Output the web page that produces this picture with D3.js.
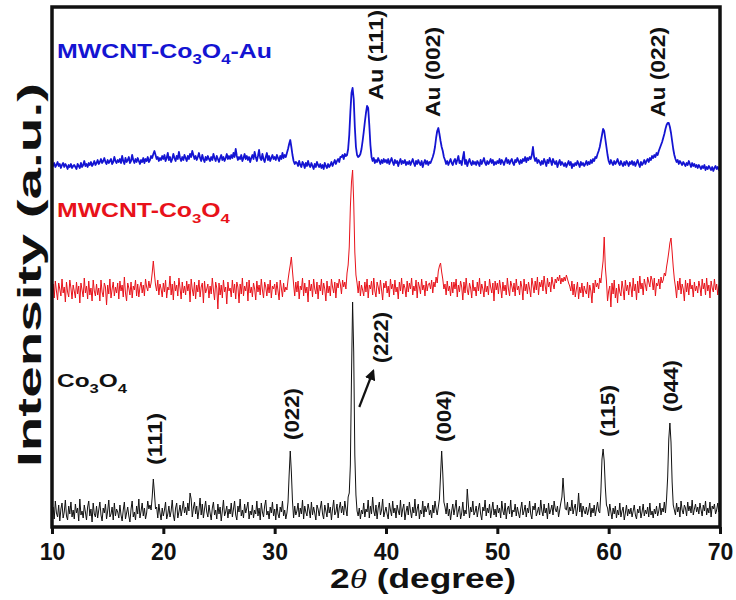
<!DOCTYPE html>
<html>
<head>
<meta charset="utf-8">
<script src="https://cdn.jsdelivr.net/npm/d3@7"></script>
<style>
    body { margin: 0; background: #fff; }
    svg { display: block; font-family: "Liberation Sans", Arial, sans-serif; font-weight: bold; }
</style>
</head>
<body>
<div id="chart"></div>
<script>
const ctx = {
    W: 736,
    H: 600,
    left: 52,
    right: 720,
    top: 7,
    bottom: 527,
};

// XRD scan grid: 2theta from 10 to 70 deg, 0.1 deg step
const scanStart = 10;
const scanStep = 0.1;

// intensities (a.u., curves already stacked)
const co3o4 = [
    12,20,8,26,14,10,22,6,18,24,9,15,27,11,7,21,13,25,10,17,
    8,23,14,19,6,28,12,16,9,22,15,7,20,26,11,18,5,24,13,10,
    21,9,17,25,12,6,19,14,23,8,16,27,10,13,20,7,24,11,18,15,
    9,22,12,6,17,25,8,14,20,11,5,18,26,10,15,7,21,13,28,9,
    16,24,11,19,8,14,26,18,22,17,30,48,34,18,20,9,23,14,7,19,
    11,17,25,8,13,21,10,16,27,12,6,19,24,9,15,22,11,18,26,14,
    20,12,24,16,34,28,10,19,25,13,21,8,17,29,12,23,9,18,26,15,
    10,22,14,7,19,25,12,17,8,23,13,20,6,16,27,11,15,21,9,18,
    13,24,10,18,26,12,7,21,15,28,11,17,9,23,14,19,25,8,16,12,
    22,9,17,13,26,11,19,7,24,15,10,21,27,12,16,8,20,14,25,11,
    18,7,23,13,9,20,15,26,11,17,8,14,25,52,76,55,26,9,21,12,
    16,24,10,19,13,27,8,21,15,11,23,17,9,25,12,20,14,7,22,18,
    11,19,26,13,8,22,16,10,24,14,20,7,18,27,12,15,23,9,19,25,
    14,21,12,26,18,11,30,34,62,150,225,175,72,32,16,11,19,8,17,13,
    24,10,18,15,27,9,21,13,30,16,11,22,8,19,25,12,17,28,10,15,
    20,13,8,24,17,11,26,14,19,9,22,16,12,27,10,18,23,7,15,21,
    12,25,16,9,20,14,28,11,18,23,8,17,13,26,10,21,15,19,24,12,
    17,9,22,14,26,18,12,20,28,52,76,54,25,20,13,24,11,18,7,16,
    23,12,19,27,10,16,21,8,14,25,11,17,13,38,22,9,20,15,26,12,
    15,21,10,18,24,13,7,20,16,27,11,19,14,23,9,17,25,12,18,10,
    22,14,19,9,26,16,12,24,8,18,21,13,27,10,17,15,23,11,20,14,
    9,18,25,12,16,22,10,19,14,26,13,8,21,17,24,11,15,20,12,27,
    16,11,23,14,19,8,24,13,17,22,12,26,18,15,21,10,17,24,30,49,
    32,18,17,25,12,20,16,27,13,19,23,11,18,34,15,24,10,21,16,13,
    20,12,17,24,10,19,14,22,11,18,25,16,14,35,68,78,66,40,22,19,
    11,23,15,8,19,13,21,9,17,12,24,10,16,20,7,14,22,11,18,13,
    19,10,16,22,12,8,18,14,21,9,15,23,11,17,13,20,10,24,12,16,
    9,18,13,21,11,16,24,12,19,15,25,14,28,50,88,104,85,45,22,17,
    12,24,15,20,10,26,17,13,22,19,11,25,16,21,14,27,12,18,23,15,
    20,13,24,17,11,22,16,26,12,19,14,25,10,21,18,23,13,17,24,15,
    18
];

const mwcntCo3o4 = [
    232,243,229,246,236,227,244,238,231,248,234,240,225,245,235,230,247,239,228,242,
    236,229,245,233,241,224,244,237,230,249,234,241,228,246,232,239,226,247,236,231,
    243,232,239,226,247,235,230,244,240,222,242,233,248,229,238,245,231,240,234,244,
    228,246,236,242,230,250,234,226,244,239,232,245,229,241,237,247,231,243,230,240,
    245,234,242,231,248,240,236,246,239,244,254,266,253,242,236,247,232,243,238,230,
    244,235,247,229,240,237,251,232,243,227,246,236,242,231,249,239,228,245,234,241,
    232,246,236,243,225,248,238,231,245,228,242,235,247,230,240,244,224,246,234,238,
    243,229,241,233,249,237,227,245,239,218,244,232,242,229,247,235,240,223,245,236,
    239,230,247,234,243,228,245,240,224,243,233,249,231,241,236,245,226,247,234,240,
    230,244,238,227,246,235,242,232,248,237,229,245,240,231,243,234,247,229,241,238,
    243,232,245,236,227,247,239,230,244,235,240,237,247,255,262,270,256,243,231,245,
    235,246,228,241,237,249,231,244,234,240,225,247,236,243,230,248,238,233,245,228,
    242,236,248,232,244,238,226,246,234,241,231,248,240,234,245,229,244,239,248,243,
    233,247,240,245,238,254,262,280,320,345,357,325,275,252,244,234,246,231,242,237,
    231,245,235,248,229,242,238,246,232,249,236,230,245,240,233,247,237,227,244,239,
    246,234,241,230,248,238,243,232,247,235,240,228,245,236,249,233,243,239,230,246,
    235,244,238,249,232,241,236,247,229,245,240,233,248,237,242,231,246,236,243,244,
    238,247,234,245,240,250,244,256,261,264,255,248,238,243,232,246,236,241,231,245,
    234,245,238,248,230,242,235,246,240,227,245,234,249,237,232,244,239,229,247,236,
    240,231,245,236,249,233,243,238,230,246,235,241,232,248,240,234,244,226,246,237,
    244,233,247,239,229,245,236,242,232,249,238,231,246,241,235,244,231,248,237,241,
    232,246,240,227,248,236,243,233,245,238,230,249,242,234,246,237,250,232,245,240,
    247,236,251,241,233,249,240,245,235,250,243,238,248,244,250,246,252,243,249,245,
    250,246,252,248,244,241,236,246,232,243,230,238,245,228,240,234,244,230,241,236,
    233,245,229,242,236,224,244,234,247,240,244,238,249,244,256,266,290,260,246,226,
    236,241,220,244,233,247,229,239,224,243,235,231,246,238,227,247,236,242,232,245,
    240,230,249,236,243,227,246,234,251,238,244,232,248,242,236,250,245,240,251,247,
    237,249,231,244,241,248,238,250,244,247,254,251,260,267,275,284,289,275,260,248,
    240,229,246,237,249,233,243,238,226,247,235,244,232,248,238,242,230,245,236,241,
    234,246,240,231,248,238,244,232,249,236,242,229,246,239,235,248,237,243,232,241,
    244
];

const mwcntCo3o4Au = [
    363,361,364,360,362,365,361,363,359,362,364,360,363,361,358,362,360,363,359,361,
    362,360,358,363,361,359,364,360,362,366,361,363,360,364,362,365,361,363,366,362,
    364,367,363,365,368,364,366,369,365,363,367,364,366,368,363,365,370,366,364,367,
    365,368,364,371,366,363,369,365,367,370,364,366,372,367,364,368,365,369,366,363,
    367,365,369,364,368,366,370,365,367,371,369,373,376,372,368,370,366,369,367,371,
    368,372,366,369,374,367,370,365,368,373,369,366,371,368,375,369,366,370,367,372,
    369,366,371,368,373,370,376,372,368,371,367,370,374,369,366,372,368,365,370,367,
    371,368,366,370,367,373,369,366,371,368,365,369,372,367,370,366,369,373,368,371,
    368,372,369,374,370,378,371,367,370,368,372,366,369,373,368,371,367,370,365,369,
    372,368,375,370,366,371,377,369,367,373,368,365,370,374,367,371,366,369,372,368,
    370,367,372,369,366,371,368,374,369,372,370,374,378,383,387,380,372,366,363,365,
    364,361,366,362,360,365,363,359,364,361,366,362,360,364,361,358,363,360,365,362,
    360,363,359,362,358,364,361,359,363,360,362,365,361,364,367,363,366,368,365,370,
    370,372,368,373,371,372,378,392,415,434,439,428,400,380,372,370,371,373,378,386,
    395,405,414,421,419,402,382,370,366,369,364,367,365,369,366,363,367,364,368,365,
    367,364,368,363,366,369,365,362,367,364,366,361,365,368,363,366,364,367,362,365,
    363,366,362,365,368,364,361,366,363,367,364,362,366,360,364,367,363,366,362,365,
    364,367,370,374,380,389,396,399,393,386,380,376,370,367,363,366,362,365,368,364,
    362,366,368,363,367,371,364,366,362,369,375,363,367,361,365,368,364,362,366,363,
    365,362,366,364,361,367,363,366,369,364,362,366,363,365,368,364,367,362,365,363,
    366,364,368,363,367,365,362,366,369,364,367,363,366,368,364,362,367,365,369,366,
    363,367,364,368,366,370,365,369,367,370,368,372,380,370,366,369,364,367,365,362,
    366,363,368,365,361,367,364,369,366,362,368,365,363,366,360,364,367,362,365,363,
    361,364,360,363,366,362,365,359,363,361,364,362,366,363,360,365,362,364,361,363,
    366,362,365,363,367,364,368,366,370,369,373,376,380,386,392,398,396,388,380,372,
    366,363,367,364,362,366,363,365,368,364,362,366,363,361,365,362,366,364,361,365,
    363,366,362,365,361,364,367,363,360,365,362,364,367,363,366,368,365,369,367,371,
    369,372,370,374,372,376,379,382,385,389,393,398,402,404,404,400,394,386,378,372,
    368,365,367,363,366,364,362,365,363,361,364,362,366,363,360,364,361,363,360,362,
    359,362,360,358,361,359,362,357,360,358,361,359,357,360,356,359,361,358,360,357,
    359
];

const xTicks = [10, 20, 30, 40, 50, 60, 70];

// sample names (main, subscript, main, subscript, main)
const sampleNames = [
    ["MWCNT-Co", "3", "O", "4", "-Au"],
    ["MWCNT-Co", "3", "O", "4", ""],
    ["Co", "3", "O", "4", ""],
];
const sampleColors = ["#1414d2", "#e8121a", "#111111"];
const sampleLineWidths = [1.8, 1, 1];
// where the sample names sit (2theta, a.u.) and how long they run
const sampleNamePos = [[10.45, 469, 215], [10.45, 310, 173], [10.45, 140, 70]];
const sampleNameSize = [21, 20, 19];

// reflection labels
const peakLabels = ["Au (111)", "Au (002)", "Au (022)", "(222)", "(111)", "(022)", "(004)", "(115)", "(044)"];
const peakLabelAt = [39.05, 44.2, 64.4, 39.5, 19.27, 31.5, 45.17, 59.9, 65.6];
const peakLabelBase = [427, 410, 410, 164, 62, 87, 85, 90, 115];
const peakLabelLen = [90, 90, 90, 51, 52, 52, 52, 52, 52];

// arrow pointing to (222)
const arrowFrom = [37.6, 120];
const arrowTo = [38.85, 156];

function createViz() {
    const svg = d3.select("#chart")
        .append("svg")
        .attr("width", ctx.W)
        .attr("height", ctx.H);

    const x = d3.scaleLinear().domain([10, 70]).range([ctx.left, ctx.right]);
    const y = d3.scaleLinear().domain([0, 520]).range([ctx.bottom, ctx.top]);

    svg.append("defs").append("marker")
        .attr("id", "arrowHead")
        .attr("viewBox", "0 0 10 10")
        .attr("refX", 8).attr("refY", 5)
        .attr("markerWidth", 5).attr("markerHeight", 5)
        .attr("orient", "auto")
        .append("path")
        .attr("d", "M0,0 L10,5 L0,10 z")
        .attr("fill", "#111");

    const line = d3.line()
        .x((d, i) => x(scanStart + i * scanStep))
        .y(d => y(d));

    const series = [mwcntCo3o4Au, mwcntCo3o4, co3o4];

    svg.append("g").selectAll("path")
        .data(series)
        .enter()
        .append("path")
        .attr("d", line)
        .attr("fill", "none")
        .attr("stroke", (d, i) => sampleColors[i])
        .attr("stroke-width", (d, i) => sampleLineWidths[i])
        .attr("stroke-linejoin", "round");

    // sample names with subscripts
    sampleNames.forEach((parts, i) => {
        const p = sampleNamePos[i];
        const t = svg.append("text")
            .attr("x", x(p[0]))
            .attr("y", y(p[1]))
            .attr("fill", sampleColors[i])
            .attr("font-size", sampleNameSize[i])
            .attr("textLength", p[2])
            .attr("lengthAdjust", "spacingAndGlyphs");
        t.append("tspan").text(parts[0]);
        t.append("tspan").attr("dy", 6).attr("font-size", sampleNameSize[i] * 0.68).text(parts[1]);
        t.append("tspan").attr("dy", -6).text(parts[2]);
        t.append("tspan").attr("dy", 6).attr("font-size", sampleNameSize[i] * 0.68).text(parts[3]);
        if (parts[4]) t.append("tspan").attr("dy", -6).text(parts[4]);
    });

    // peak labels, vertical
    svg.append("g").selectAll("text")
        .data(peakLabels)
        .enter()
        .append("text")
        .attr("transform", (d, i) => `translate(${x(peakLabelAt[i])},${y(peakLabelBase[i])}) rotate(-90)`)
        .attr("dy", "0.36em")
        .attr("font-size", 20)
        .attr("fill", "#111")
        .attr("textLength", (d, i) => peakLabelLen[i])
        .attr("lengthAdjust", "spacingAndGlyphs")
        .text(d => d);

    svg.append("line")
        .attr("x1", x(arrowFrom[0])).attr("y1", y(arrowFrom[1]))
        .attr("x2", x(arrowTo[0])).attr("y2", y(arrowTo[1]))
        .attr("stroke", "#111")
        .attr("stroke-width", 2.2)
        .attr("marker-end", "url(#arrowHead)");

    // x axis
    const xAxis = svg.append("g")
        .attr("transform", `translate(0,${ctx.bottom})`)
        .call(d3.axisBottom(x).tickValues(xTicks).tickSize(7).tickPadding(10).tickFormat(d3.format("d")));
    xAxis.select(".domain").remove();
    xAxis.selectAll("line").attr("stroke", "#111").attr("stroke-width", 3);
    xAxis.selectAll("text")
        .attr("font-size", 23)
        .attr("font-family", "Liberation Sans, Arial, sans-serif")
        .attr("font-weight", "bold")
        .attr("fill", "#111");

    // frame
    svg.append("rect")
        .attr("x", ctx.left)
        .attr("y", ctx.top)
        .attr("width", ctx.right - ctx.left)
        .attr("height", ctx.bottom - ctx.top)
        .attr("fill", "none")
        .attr("stroke", "#111")
        .attr("stroke-width", 3.5);

    // axis titles
    const xt = svg.append("text")
        .attr("x", 330)
        .attr("y", 588)
        .attr("font-size", 27)
        .attr("fill", "#111")
        .attr("textLength", 186)
        .attr("lengthAdjust", "spacingAndGlyphs");
    xt.append("tspan").text("2");
    xt.append("tspan")
        .attr("font-family", "Liberation Serif, Times New Roman, serif")
        .attr("font-style", "italic")
        .attr("font-weight", "normal")
        .text("θ");
    xt.append("tspan").text(" (degree)");

    svg.append("text")
        .attr("transform", "translate(41,275) rotate(-90)")
        .attr("text-anchor", "middle")
        .attr("font-size", 33)
        .attr("fill", "#111")
        .attr("textLength", 384)
        .attr("lengthAdjust", "spacingAndGlyphs")
        .text("Intensity (a.u.)");
}

createViz();
</script>
</body>
</html>
